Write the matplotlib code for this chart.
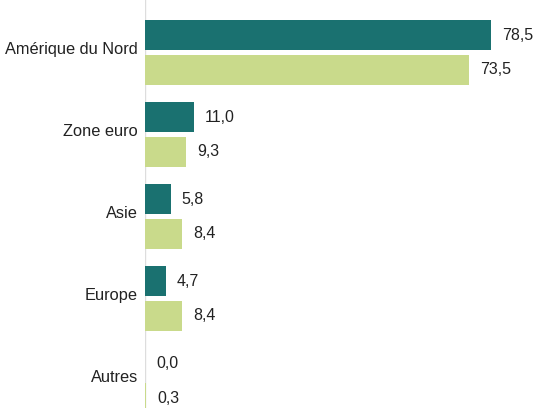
import matplotlib.pyplot as plt
import numpy as np

plt.rcParams['font.family'] = ['Liberation Sans', 'DejaVu Sans']

categories = ['Amérique du Nord', 'Zone euro', 'Asie', 'Europe', 'Autres']
serie1 = [78.5, 11.0, 5.8, 4.7, 0.0]
serie2 = [73.5, 9.3, 8.4, 8.4, 0.3]

c1 = '#1a7170'
c2 = '#c9da8b'

fig = plt.figure(figsize=(5.36, 4.08), dpi=100)
ax = fig.add_axes([145/536, 0, 1 - 145/536, 1])

y = np.arange(len(categories))
h = 30/82
off = 17.5/82
ax.barh(y - off, serie1, height=h, color=c1)
ax.barh(y + off, serie2, height=h, color=c2)

px = 4.41  # pixels per unit
ax.set_xlim(0, (536-145)/px)
ax.set_ylim((408-52.5)/82, -52.5/82)

for i in range(len(categories)):
    ax.text(serie1[i] + 11/px, y[i] - off, f'{serie1[i]:.1f}'.replace('.', ','),
            va='center', ha='left', fontsize=11.5, color='#222222')
    ax.text(serie2[i] + 11/px, y[i] + off, f'{serie2[i]:.1f}'.replace('.', ','),
            va='center', ha='left', fontsize=11.5, color='#222222')
    ax.text(-7/px, y[i] - 3/82, categories[i], va='center', ha='right',
            fontsize=11.8, color='#222222', clip_on=False)

ax.axvline(0, color='#dddddd', lw=1, zorder=0)
for s in ax.spines.values():
    s.set_visible(False)
ax.set_xticks([])
ax.set_yticks([])

fig.savefig('out.png', dpi=100)
